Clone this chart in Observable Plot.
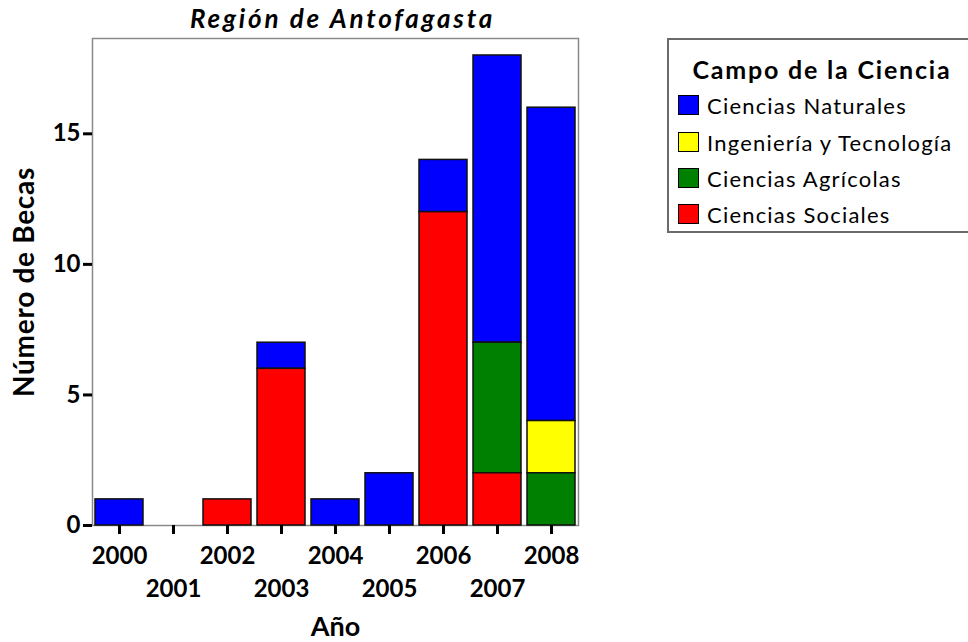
<!DOCTYPE html>
<html>
<head>
<meta charset="utf-8">
<script src="https://cdn.jsdelivr.net/npm/d3@7"></script>
<script src="https://cdn.jsdelivr.net/npm/@observablehq/plot@0.6"></script>
<style>
html, body { margin: 0; padding: 0; overflow: hidden; background: #fff; }
#wrap { position: relative; width: 968px; height: 642px; font-family: Lato, sans-serif; }
#legend { position: absolute; left: 667px; top: 38px; width: 310px; height: 195px; border: 2px solid #6a6a6a; box-sizing: border-box; }
#legend .ttl { position: absolute; left: 0; width: 100%; top: 14px; text-align: center; font-weight: bold; font-size: 25px; letter-spacing: 1.8px; color: #000; line-height: 30px; }
#legend .row { position: absolute; left: 9px; height: 24px; display: flex; align-items: center; font-size: 22px; color: #000; letter-spacing: 1.2px; white-space: nowrap; }
#legend .sw { width: 19px; height: 18px; border: 1px solid #000; margin-right: 8px; flex: none; }
</style>
</head>
<body>
<div id="wrap"></div>
<script>
const years = ["2000","2001","2002","2003","2004","2005","2006","2007","2008"];
const fields = ["Ciencias Naturales","Ingeniería y Tecnología","Ciencias Agrícolas","Ciencias Sociales"];
const colors = ["#0000ff","#ffff00","#008000","#ff0000"];
const naturales  = [1,0,0,1,1,2,2,11,12];
const ingenieria = [0,0,0,0,0,0,0,0,2];
const agricolas  = [0,0,0,0,0,0,0,5,2];
const sociales   = [0,0,1,6,0,0,12,2,0];
const yTicks = [0,5,10,15];
const title = "Región de Antofagasta";
const xLabel = "Año";
const yLabel = "Número de Becas";
const legendTitle = "Campo de la Ciencia";

const series = [naturales, ingenieria, agricolas, sociales];
const data = [];
fields.forEach((f, k) => years.forEach((y, i) => {
  if (series[k][i] > 0) data.push({year: y, field: f, value: series[k][i]});
}));
const stackOrder = ["Ciencias Sociales","Ciencias Agrícolas","Ingeniería y Tecnología","Ciencias Naturales"];

const chart = Plot.plot({
  width: 968,
  height: 642,
  marginTop: 38,
  marginLeft: 92,
  marginRight: 390,
  marginBottom: 117,
  style: {fontFamily: "Lato, sans-serif", background: "white", color: "black"},
  x: {domain: years, paddingInner: 0.11, paddingOuter: 0.055, axis: null},
  y: {domain: [0, 18.65], axis: null},
  color: {domain: fields, range: colors},
  marks: [
    Plot.frame({stroke: "#8a8a8a", strokeWidth: 1.5}),
    Plot.barY(data, Plot.stackY({order: stackOrder}, {x: "year", y: "value", z: "field", fill: "field", stroke: "#111", strokeWidth: 1.5})),
    Plot.axisY(yTicks, {tickSize: 9, strokeWidth: 3, tickPadding: 3, fontSize: 24, fontWeight: "bold", label: null, stroke: "black", fill: "black"}),
    Plot.axisX(years, {tickSize: 9, strokeWidth: 3, tickFormat: () => "", label: null, stroke: "black"}),
    Plot.axisX(years.filter((d, i) => i % 2 === 0), {tickSize: 0, tickPadding: 21, fontSize: 24, fontWeight: "bold", label: null, fill: "black"}),
    Plot.axisX(years.filter((d, i) => i % 2 === 1), {tickSize: 0, tickPadding: 54, fontSize: 24, fontWeight: "bold", label: null, fill: "black"}),
    Plot.text([xLabel], {text: d => d, frameAnchor: "bottom", dy: 110, lineAnchor: "bottom", fontSize: 27, fontWeight: "bold", fill: "black"}),
    Plot.text([yLabel], {text: d => d, frameAnchor: "left", textAnchor: "middle", dx: -67, rotate: -90, fontSize: 28, fontWeight: "bold", fill: "black", letterSpacing: 0.7}),
    Plot.text([title], {text: d => d, frameAnchor: "top", dx: 7, dy: -11, lineAnchor: "bottom", fontSize: 26, fontWeight: "bold", fontStyle: "italic", fill: "black"})
  ]
});

// widen letter spacing of the title / y label as in the reference
chart.querySelectorAll("text").forEach(t => {
  if (t.textContent === title) t.setAttribute("letter-spacing", "2.8");
  if (t.textContent === yLabel) t.setAttribute("letter-spacing", "0.7");
});

const wrap = document.getElementById("wrap");
chart.style.position = "absolute";
chart.style.left = "0";
chart.style.top = "0";
wrap.appendChild(chart);

const legend = document.createElement("div");
legend.id = "legend";
const lt = document.createElement("div");
lt.className = "ttl";
lt.textContent = legendTitle;
legend.appendChild(lt);
const rowCenters = [65, 102, 138, 174];
fields.forEach((f, i) => {
  const row = document.createElement("div");
  row.className = "row";
  row.style.top = (rowCenters[i] - 12) + "px";
  const sw = document.createElement("div");
  sw.className = "sw";
  sw.style.background = colors[i];
  const tx = document.createElement("span");
  tx.textContent = f;
  row.appendChild(sw);
  row.appendChild(tx);
  legend.appendChild(row);
});
wrap.appendChild(legend);
</script>
</body>
</html>
